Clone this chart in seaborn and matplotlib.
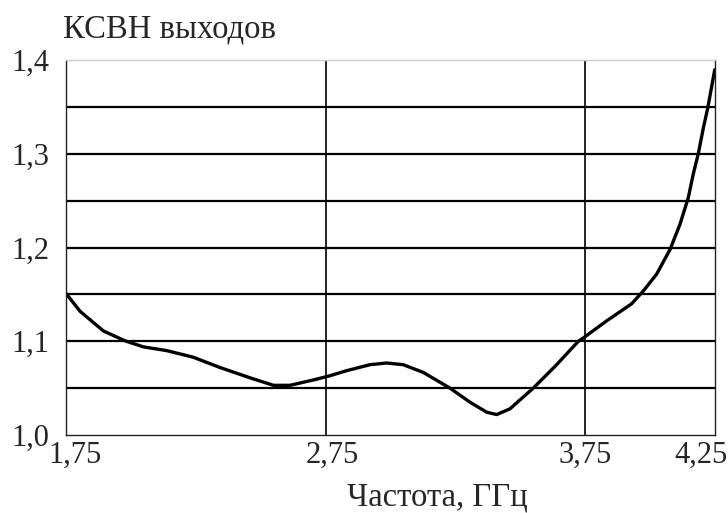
import numpy as np
import pandas as pd
import matplotlib
matplotlib.use("Agg")
import matplotlib.pyplot as plt
import matplotlib.transforms as mtransforms
import seaborn as sns

# Data
freq = [1.75, 1.804, 1.894, 1.977, 2.048, 2.138, 2.240, 2.343, 2.459, 2.549, 2.613,
        2.703, 2.764, 2.831, 2.921, 2.985, 3.049, 3.126, 3.229, 3.306, 3.371, 3.409,
        3.460, 3.550, 3.640, 3.723, 3.745, 3.833, 3.929, 3.974, 4.025, 4.077, 4.115,
        4.147, 4.166, 4.186, 4.205, 4.222, 4.249]
vswr = [1.151, 1.132, 1.111, 1.1005, 1.094, 1.090, 1.083, 1.072, 1.061, 1.053, 1.053,
        1.0587, 1.063, 1.0686, 1.075, 1.0768, 1.075, 1.0668, 1.050, 1.035, 1.0243, 1.0218,
        1.0279, 1.050, 1.075, 1.0998, 1.104, 1.1218, 1.140, 1.1537, 1.1715, 1.198, 1.2247,
        1.253, 1.278, 1.3005, 1.3274, 1.3487, 1.3896]

x_ticks = [1.75, 2.75, 3.75, 4.25]
x_tick_labels = ["1,75", "2,75", "3,75", "4,25"]
y_ticks = [1.0, 1.1, 1.2, 1.3, 1.4]
y_tick_labels = ["1,0", "1,1", "1,2", "1,3", "1,4"]
y_grid = [1.05, 1.15, 1.25, 1.35]

title_text = "КСВН выходов"
xlabel_text = "Частота, ГГц"

df = pd.DataFrame({"freq": freq, "vswr": vswr})

sns.set_style("white")
plt.rcParams["font.family"] = ["Liberation Serif", "DejaVu Serif"]

fig = plt.figure(figsize=(7.28, 5.13), dpi=100)
ax = fig.add_axes([66 / 728, 1 - 435 / 513, (715 - 66) / 728, (435 - 60) / 513])

sns.lineplot(data=df, x="freq", y="vswr", sort=False, color="black",
             linewidth=2.4, ax=ax)
for l in ax.get_lines():
    l.set_solid_joinstyle("round")
    l.set_solid_capstyle("round")

ax.set_xlim(1.75, 4.25)
ax.set_ylim(1.0, 1.4)
ax.set_xticks(x_ticks)
ax.set_xticklabels(x_tick_labels)
ax.set_yticks(y_ticks)
ax.set_yticklabels(y_tick_labels)
ax.set_yticks(y_grid, minor=True)
ax.tick_params(axis="both", which="both", length=0)
ax.tick_params(axis="x", labelsize=22, pad=4)
ax.tick_params(axis="y", labelsize=22, pad=12)

ax.grid(True, axis="y", which="both", color="black", linewidth=1.6)
ax.grid(True, axis="x", which="major", color="black", linewidth=1.2)
xg = ax.xaxis.get_gridlines()
xg[0].set_visible(False)
xg[-1].set_visible(False)
yg = ax.yaxis.get_gridlines()
yg[0].set_visible(False)
yg[-1].set_visible(False)
ax.set_axisbelow(True)

for side in ["left", "bottom", "right"]:
    ax.spines[side].set_color("#222222")
    ax.spines[side].set_linewidth(1.0)
ax.spines["top"].set_color("#cccccc")
ax.spines["top"].set_linewidth(1.0)

ax.set_xlabel("")
ax.set_ylabel("")

offsets_px = [9, 7, 0, -14]
for lab, dx in zip(ax.get_xticklabels(), offsets_px):
    lab.set_transform(lab.get_transform() +
                      mtransforms.ScaledTranslation(dx / 100, 0, fig.dpi_scale_trans))

fig.text(63 / 728, 1 - 38 / 513, title_text, fontsize=23.5, ha="left", va="baseline")
fig.text(437 / 728, 1 - 506 / 513, xlabel_text, fontsize=23.5, ha="center", va="baseline")

fig.savefig("out.png", dpi=100)
